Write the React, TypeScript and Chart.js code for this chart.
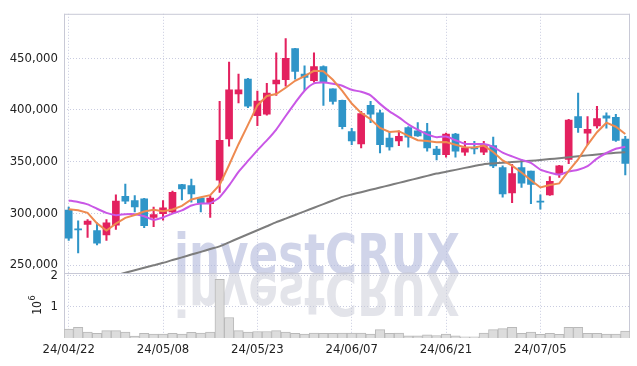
import React, { useEffect, useRef } from 'react';
import { Chart, registerables } from 'chart.js';

Chart.register(...registerables);

const dates = [
  '24/04/22','24/04/23','24/04/24','24/04/25','24/04/26','24/04/29','24/04/30','24/05/02','24/05/03','24/05/07',
  '24/05/08','24/05/09','24/05/10','24/05/13','24/05/14','24/05/16','24/05/17','24/05/20','24/05/21','24/05/22',
  '24/05/23','24/05/24','24/05/27','24/05/28','24/05/29','24/05/30','24/05/31','24/06/03','24/06/04','24/06/05',
  '24/06/07','24/06/10','24/06/11','24/06/12','24/06/13','24/06/14','24/06/17','24/06/18','24/06/19','24/06/20',
  '24/06/21','24/06/24','24/06/25','24/06/26','24/06/27','24/06/28','24/07/01','24/07/02','24/07/03','24/07/04',
  '24/07/05','24/07/08','24/07/09','24/07/10','24/07/11','24/07/12','24/07/15','24/07/16','24/07/17','24/07/18',
];

const opens = [
  303300,285000,289300,283300,279200,288700,316600,312500,314100,296000,
  299800,301400,327800,326800,314700,309300,332200,371900,415600,429900,
  394400,395900,425200,429300,459400,434700,428300,442000,420400,409300,
  379200,367100,404500,397300,372800,370200,383000,379800,379200,362300,
  356900,376600,359200,363300,359200,365500,344200,319800,344200,340800,
  311900,317900,337900,352100,393500,377600,384500,394400,392800,371900,
];
const highs = [
  306200,292800,294100,290900,294100,317900,328400,317300,314500,306200,
  312500,321500,328000,333100,315000,317300,408300,446400,434700,430500,
  418200,425800,455300,469000,459500,442600,455300,442600,420400,409500,
  382300,398800,408300,399800,379200,379800,384000,387800,387100,364900,
  377600,377500,369700,369700,369700,373800,345900,347400,352100,341000,
  317900,335700,346400,390900,416300,393500,403600,397300,395900,374400,
];
const lows = [
  273800,261700,276700,269500,273800,284600,309300,301400,286200,287100,
  293500,300500,313100,310900,301400,296000,320400,364900,406800,402300,
  384900,395000,414000,423000,429900,418800,426800,404500,405500,381700,
  366400,363300,387800,358500,361100,365500,364000,374400,360100,351600,
  354400,354400,356000,357600,356900,344200,315700,310300,325200,309300,
  304000,317300,334700,348100,378200,366400,382300,382300,369700,337300,
];
const closes = [
  276000,284000,292600,271200,290900,311900,311900,306200,288100,298800,
  305500,320400,323600,318800,310300,314700,370600,419500,419500,403600,
  408700,416300,429000,449900,437300,431500,442000,426800,408300,383900,
  370200,396600,395900,366400,364200,374400,373800,375000,363300,356900,
  376600,360100,363300,362300,365500,345900,318800,338500,329300,328100,
  310900,330900,345900,390200,383000,381400,391800,392100,370600,348300,
];
const volumes = [
  290000,340000,190000,150000,240000,240000,190000,60000,150000,130000,
  130000,150000,130000,180000,160000,190000,1890000,660000,240000,190000,
  210000,210000,240000,190000,150000,130000,160000,150000,150000,160000,
  160000,160000,130000,270000,150000,160000,70000,70000,100000,80000,
  130000,70000,40000,40000,160000,270000,300000,340000,150000,190000,
  120000,150000,120000,340000,340000,150000,150000,130000,130000,220000,
];
const ma5 = [
  304000,303000,300500,290300,283500,290100,295700,298400,301800,303400,
  302100,303800,307300,313400,315700,317600,327600,346800,366900,385600,
  404400,413500,415400,421500,428200,432800,437900,437500,429200,418500,
  406200,397200,391000,382600,378700,379500,374900,370800,370100,368700,
  369100,366400,364000,363800,365600,359400,351200,346200,339600,332100,
  325100,327500,329000,341200,352200,366300,378500,387700,383800,376800,
];
const ma10 = [
  312500,311000,308700,304500,300500,298300,299200,299200,297300,293800,
  296100,299800,302900,307600,309600,309800,315700,327000,340200,350700,
  361000,370600,381100,394200,406900,418600,425700,426500,425300,423400,
  419500,417600,414200,405900,398600,392900,386100,380900,376400,373700,
  374300,370700,367400,367000,367100,364300,358800,355100,351700,348800,
  342300,339400,337600,340400,342200,345700,353000,358400,362500,364500,
];
const maLong = [
  227700,230200,232600,235100,237600,240100,242600,245000,247400,249800,
  252200,254900,257500,260200,262800,265500,268100,272000,276000,279800,
  283700,287600,291500,295000,298500,302000,305500,309000,312500,316000,
  318300,320500,322800,325000,327300,329500,331800,334000,336300,338500,
  340300,342100,344000,345800,347600,348300,349000,349600,350300,350900,
  351600,352500,353400,354300,355200,356100,357000,357900,358600,359200,
];
const priceTicks = [250000, 300000, 350000, 400000, 450000];
const volumeTicks = [1000000, 2000000];

const UP = '#e3215f';
const DOWN = '#2f95c8';
const GRID = '#c9cce0';
const FRAME = '#c8c9d6';
const TICK_FONT = { family: '"DejaVu Sans Condensed", "DejaVu Sans", sans-serif', size: 13 };

const framePlugin = {
  id: 'frame',
  beforeDatasetsDraw(chart: any) {
    const { ctx, chartArea } = chart;
    const sep = chart.scales.y.bottom;
    ctx.save();
    ctx.beginPath();
    ctx.rect(chartArea.left, chartArea.top, chartArea.right - chartArea.left, chartArea.bottom - chartArea.top);
    ctx.clip();
    const text = 'investCRUX';
    ctx.font = 'bold 56px "DejaVu Sans", sans-serif';
    const w = ctx.measureText(text).width;
    const sx = 286 / w;
    ctx.save();
    ctx.translate(174, sep);
    ctx.scale(sx, 1);
    ctx.fillStyle = 'rgba(176,183,218,0.6)';
    ctx.textBaseline = 'alphabetic';
    ctx.fillText(text, 0, 0);
    ctx.scale(1, -1.05);
    ctx.fillStyle = 'rgba(200,202,214,0.5)';
    ctx.fillText(text, 0, 0);
    ctx.restore();
    ctx.restore();

    ctx.save();
    ctx.strokeStyle = FRAME;
    ctx.lineWidth = 1;
    ctx.beginPath();
    ctx.moveTo(chartArea.left + 0.5, chartArea.top);
    ctx.lineTo(chartArea.left + 0.5, chartArea.bottom);
    ctx.moveTo(chartArea.left, chartArea.top + 0.5);
    ctx.lineTo(chartArea.right, chartArea.top + 0.5);
    ctx.moveTo(chartArea.right - 0.5, chartArea.top);
    ctx.lineTo(chartArea.right - 0.5, chartArea.bottom);
    ctx.moveTo(chartArea.left, Math.round(sep) + 0.5);
    ctx.lineTo(chartArea.right, Math.round(sep) + 0.5);
    ctx.stroke();
    ctx.restore();
  },
  afterDraw(chart: any) {
    const { ctx } = chart;
    const yv = chart.scales.yv;
    const cy = (yv.top + yv.bottom) / 2;
    ctx.save();
    ctx.translate(37, cy);
    ctx.rotate(-Math.PI / 2);
    ctx.fillStyle = '#222';
    ctx.textBaseline = 'alphabetic';
    ctx.textAlign = 'left';
    ctx.font = '12px "DejaVu Sans Condensed", "DejaVu Sans", sans-serif';
    const w10 = ctx.measureText('10').width;
    ctx.fillText('10', -(w10 + 5) / 2, 4);
    ctx.font = '9px "DejaVu Sans Condensed", "DejaVu Sans", sans-serif';
    ctx.fillText('6', -(w10 + 5) / 2 + w10 + 0.5, -2);
    ctx.restore();
  },
};

export default function App() {
  const ref = useRef<HTMLCanvasElement | null>(null);
  useEffect(() => {
    if (!ref.current) return;
    const up = closes.map((c, i) => c >= opens[i]);
    const colors = up.map((u) => (u ? UP : DOWN));
    const chart = new Chart(ref.current, {
      type: 'bar',
      data: {
        labels: dates,
        datasets: [
          {
            type: 'line',
            label: 'MA5',
            data: ma5,
            yAxisID: 'y',
            borderColor: '#ee8a50',
            borderWidth: 2,
            pointRadius: 0,
            tension: 0,
            order: 0,
          },
          {
            type: 'line',
            label: 'MA10',
            data: ma10,
            yAxisID: 'y',
            borderColor: '#c957e6',
            borderWidth: 2,
            pointRadius: 0,
            tension: 0.2,
            order: 0,
          },
          {
            type: 'line',
            label: 'MA long',
            data: maLong,
            yAxisID: 'y',
            borderColor: '#7d7d7d',
            borderWidth: 2,
            pointRadius: 0,
            tension: 0.2,
            order: 0,
          },
          {
            type: 'bar',
            label: 'body',
            data: opens.map((o, i) => [o, closes[i]]) as any,
            yAxisID: 'y',
            backgroundColor: colors,
            borderWidth: 0,
            barThickness: 7,
            grouped: false,
            order: 1,
          },
          {
            type: 'bar',
            label: 'wick',
            data: lows.map((l, i) => [l, highs[i]]) as any,
            yAxisID: 'y',
            backgroundColor: colors,
            borderWidth: 0,
            barThickness: 1.4,
            grouped: false,
            order: 2,
          },
          {
            type: 'bar',
            label: 'volume',
            data: volumes,
            yAxisID: 'yv',
            backgroundColor: '#dcdcdc',
            borderColor: '#b9b9b9',
            borderWidth: 1,
            barPercentage: 1,
            categoryPercentage: 1,
            grouped: false,
            order: 3,
          },
        ],
      },
      options: {
        animation: false,
        responsive: true,
        maintainAspectRatio: false,
        layout: { padding: { left: 0, right: 7, top: 9, bottom: 0 } },
        plugins: { legend: { display: false }, tooltip: { enabled: false } },
        scales: {
          x: {
            type: 'category',
            offset: true,
            grid: {
              offset: false,
              drawTicks: false,
              color: (c: any) => (c.index % 10 === 0 ? GRID : 'rgba(0,0,0,0)'),
            },
            border: { display: false, dash: [1, 2] },
            ticks: {
              autoSkip: false,
              maxRotation: 0,
              padding: 4,
              color: '#222',
              font: TICK_FONT,
              callback: (_v: any, i: number) => (i % 10 === 0 ? dates[i] : ''),
            },
            afterFit: (s: any) => { s.height = 28; },
          },
          yv: {
            type: 'linear',
            position: 'left',
            stack: 'panes',
            stackWeight: 66,
            min: 0,
            max: 2095000,
            grid: { color: GRID, drawTicks: false },
            border: { display: false, dash: [1, 2] },
            ticks: {
              padding: 6,
              color: '#222',
              font: TICK_FONT,
              callback: (v: any) => String(Math.round(Number(v) / 1000000)),
            },
            afterBuildTicks: (s: any) => { s.ticks = volumeTicks.map((v) => ({ value: v })); },
            afterFit: (s: any) => { s.width = 64; },
          },
          y: {
            type: 'linear',
            position: 'left',
            stack: 'panes',
            stackWeight: 263,
            min: 242400,
            max: 493000,
            grid: { color: GRID, drawTicks: false },
            border: { display: false, dash: [1, 2] },
            ticks: {
              padding: 6,
              color: '#222',
              font: TICK_FONT,
              callback: (v: any) => Number(v).toLocaleString('en-US'),
            },
            afterBuildTicks: (s: any) => { s.ticks = priceTicks.map((v) => ({ value: v })); },
            afterFit: (s: any) => { s.width = 64; },
          },
        },
      },
      plugins: [framePlugin],
    } as any);
    return () => chart.destroy();
  }, []);
  return (
    <div style={{ position: 'absolute', left: 0, top: 0, width: 637, height: 366, background: '#fff' }}>
      <canvas ref={ref} />
    </div>
  );
}
